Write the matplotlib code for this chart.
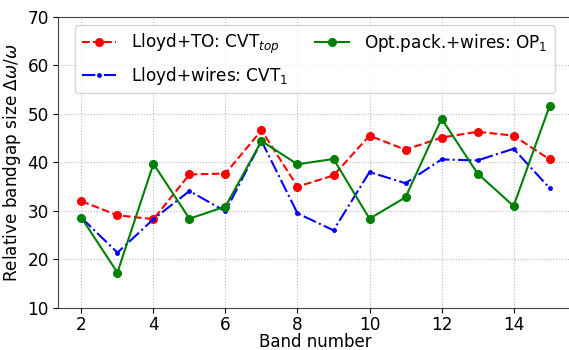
import matplotlib
matplotlib.use("Agg")
import matplotlib.pyplot as plt

bands = [2, 3, 4, 5, 6, 7, 8, 9, 10, 11, 12, 13, 14, 15]
cvt_top = [32.0, 29.1, 28.3, 37.5, 37.7, 46.6, 35.0, 37.3, 45.5, 42.6, 45.1, 46.3, 45.5, 40.6]
cvt_1 = [28.6, 21.4, 28.3, 34.1, 29.9, 44.4, 29.5, 26.0, 38.0, 35.7, 40.6, 40.4, 42.8, 34.7]
op_1 = [28.6, 17.3, 39.7, 28.4, 30.9, 44.4, 39.6, 40.7, 28.4, 32.8, 49.0, 37.7, 31.0, 51.6]
xticks = [2, 4, 6, 8, 10, 12, 14]
yticks = [10, 20, 30, 40, 50, 60, 70]

fs = 12.2
fig = plt.figure(figsize=(5.69, 3.5), dpi=100)
ax = fig.add_axes([58/569, 1-308/350, (573-58)/569, (308-16.7)/350])

ax.plot(bands, cvt_top, color='red', linestyle='--', marker='o', markersize=5.5,
        linewidth=1.5, label=r'Lloyd+TO: CVT$_{top}$')
ax.plot(bands, cvt_1, color='blue', linestyle='-.', marker='.', markersize=5,
        linewidth=1.5, label=r'Lloyd+wires: CVT$_1$')
ax.plot(bands, op_1, color='green', linestyle='-', marker='o', markersize=5.5,
        linewidth=1.5, label=r'Opt.pack.+wires: OP$_1$')

ax.set_xlim(1.35, 15.65)
ax.set_ylim(10, 70)
ax.set_xticks(xticks)
ax.set_yticks(yticks)
ax.tick_params(labelsize=fs, pad=3)
ax.tick_params(axis='x', pad=2)
ax.grid(True, linestyle=':', color='#bbbbbb', linewidth=0.8)
ax.set_xlabel('Band number', fontsize=12, labelpad=-0.5)
ax.set_ylabel(r'Relative bandgap size $\Delta\omega/\omega$', fontsize=fs, labelpad=3)
for s in ax.spines.values():
    s.set_color('#444444')
ax.legend(loc='upper left', ncol=2, fontsize=fs, bbox_to_anchor=(17/515, 1-8.5/291.3),
          borderaxespad=0.0, columnspacing=1.6, handlelength=2.0, handletextpad=0.9)

fig.savefig('out.png', dpi=100)
